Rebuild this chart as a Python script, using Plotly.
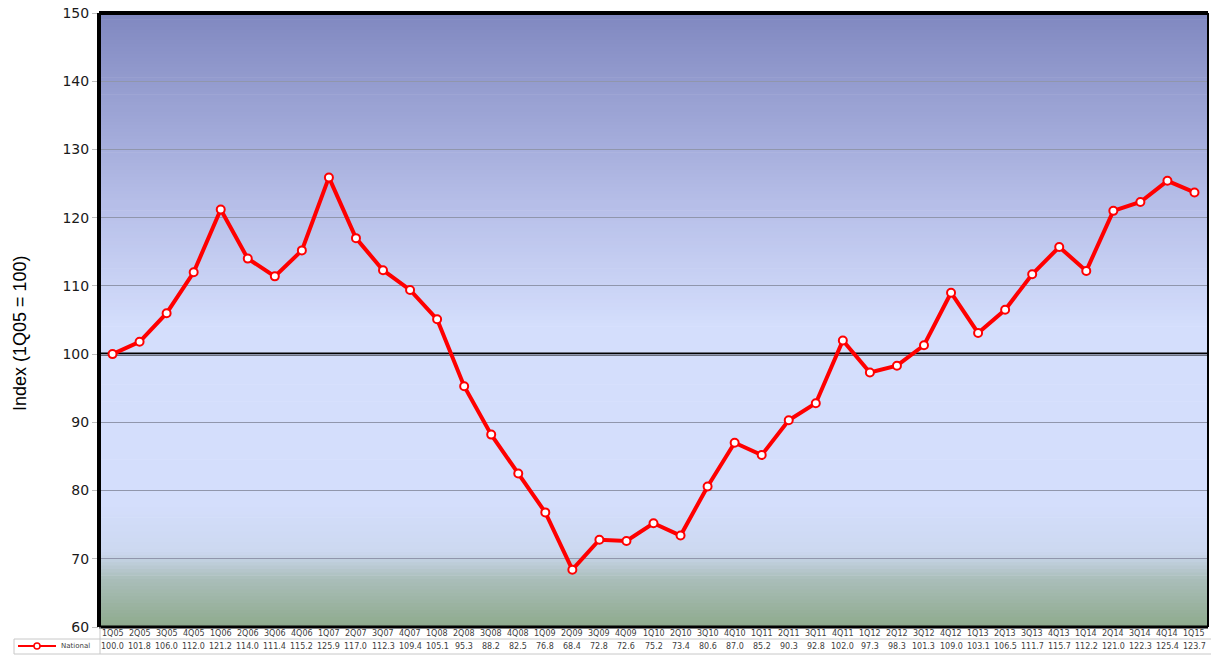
import plotly.graph_objects as go

# quarters and national index values (1Q05 = 100)
quarters = ["1Q05", "2Q05", "3Q05", "4Q05", "1Q06", "2Q06", "3Q06", "4Q06",
            "1Q07", "2Q07", "3Q07", "4Q07", "1Q08", "2Q08", "3Q08", "4Q08",
            "1Q09", "2Q09", "3Q09", "4Q09", "1Q10", "2Q10", "3Q10", "4Q10",
            "1Q11", "2Q11", "3Q11", "4Q11", "1Q12", "2Q12", "3Q12", "4Q12",
            "1Q13", "2Q13", "3Q13", "4Q13", "1Q14", "2Q14", "3Q14", "4Q14", "1Q15"]
national = [100.0, 101.8, 106.0, 112.0, 121.2, 114.0, 111.4, 115.2,
            125.9, 117.0, 112.3, 109.4, 105.1, 95.3, 88.2, 82.5,
            76.8, 68.4, 72.8, 72.6, 75.2, 73.4, 80.6, 87.0,
            85.2, 90.3, 92.8, 102.0, 97.3, 98.3, 101.3, 109.0,
            103.1, 106.5, 111.7, 115.7, 112.2, 121.0, 122.3, 125.4, 123.7]
y_ticks = [60, 70, 80, 90, 100, 110, 120, 130, 140, 150]

x_idx = list(range(len(quarters)))

# background gradient stops (index value -> colour)
grad_stops = [(60, (142, 170, 140)), (67, (170, 190, 186)), (71, (204, 216, 240)),
              (78, (212, 222, 252)), (104, (212, 222, 252)), (122, (182, 190, 232)),
              (150, (128, 136, 192))]


def grad_color(v):
    for (a, ca), (b, cb) in zip(grad_stops[:-1], grad_stops[1:]):
        if a <= v <= b:
            t = (v - a) / (b - a)
            c = [round(ca[k] + (cb[k] - ca[k]) * t) for k in range(3)]
            return "rgb(%d,%d,%d)" % tuple(c)
    return "rgb(128,136,192)"


shapes = []
step = 0.5
v = 60.0
while v < 150:
    shapes.append(dict(type="rect", xref="paper", yref="y", x0=0, x1=1, y0=v, y1=v + step + 0.1,
                       fillcolor=grad_color(v + step / 2), line=dict(width=0), layer="below"))
    v += step

# 100 baseline
shapes.append(dict(type="line", xref="paper", yref="y", x0=0, x1=1, y0=100, y1=100,
                   line=dict(color="black", width=3), layer="between"))
# frame
shapes.append(dict(type="line", xref="paper", yref="paper", x0=0, x1=0, y0=0, y1=1, line=dict(color="black", width=4)))
shapes.append(dict(type="line", xref="paper", yref="paper", x0=0, x1=1, y0=1, y1=1, line=dict(color="black", width=4)))
shapes.append(dict(type="line", xref="paper", yref="paper", x0=0, x1=1, y0=0, y1=0, line=dict(color="black", width=3)))
shapes.append(dict(type="line", xref="paper", yref="paper", x0=1, x1=1, y0=0, y1=1, line=dict(color="black", width=2)))

# data table grid
W, H = 1211, 656
L, R, T, B = 99, 3, 13, 29
pw, ph = W - L - R, H - T - B


def px_x(p):
    return (p - L) / pw


def px_y(p):
    return (H - B - p) / ph


for yy in [639, 654]:
    shapes.append(dict(type="line", xref="paper", yref="paper", x0=px_x(14), x1=px_x(1211),
                       y0=px_y(yy), y1=px_y(yy), line=dict(color="#c8c8c8", width=1)))
shapes.append(dict(type="line", xref="paper", yref="paper", x0=px_x(14), x1=px_x(14),
                   y0=px_y(639), y1=px_y(654), line=dict(color="#c8c8c8", width=1)))
shapes.append(dict(type="line", xref="paper", yref="paper", x0=px_x(100), x1=px_x(100),
                   y0=px_y(627), y1=px_y(654), line=dict(color="#c8c8c8", width=1)))
# legend key
shapes.append(dict(type="line", xref="paper", yref="paper", x0=px_x(18), x1=px_x(56),
                   y0=px_y(646), y1=px_y(646), line=dict(color="red", width=2)))
shapes.append(dict(type="circle", xref="paper", yref="paper", xsizemode="pixel", ysizemode="pixel",
                   xanchor=px_x(37), yanchor=px_y(646), x0=-3, x1=3, y0=-3, y1=3,
                   fillcolor="white", line=dict(color="red", width=1.5)))

annotations = []
tfont = dict(family="DejaVu Sans, Verdana", size=8, color="#404040")
for i in x_idx:
    annotations.append(dict(x=i, y=0, xref="x", yref="paper", text=quarters[i], showarrow=False,
                            yanchor="middle", yshift=-6, font=tfont))
    annotations.append(dict(x=i, y=0, xref="x", yref="paper", text="%.1f" % national[i], showarrow=False,
                            yanchor="middle", yshift=-19, font=tfont))
annotations.append(dict(x=px_x(59), y=px_y(646), xref="paper", yref="paper", text="National",
                        showarrow=False, xanchor="left", yanchor="middle",
                        font=dict(family="DejaVu Sans, Verdana", size=7, color="#404040")))
# y axis title
annotations.append(dict(x=px_x(20), y=px_y(333), xref="paper", yref="paper", text="Index (1Q05 = 100)",
                        showarrow=False, textangle=-90, xanchor="center", yanchor="middle",
                        font=dict(family="Liberation Sans Narrow, Liberation Sans, Arial", size=18,
                                  color="#000000")))

fig = go.Figure()
fig.add_trace(go.Scatter(
    x=x_idx, y=national, mode="lines+markers", name="National",
    line=dict(color="#ff0000", width=4),
    marker=dict(size=8, color="white", line=dict(color="#ff0000", width=2)),
    cliponaxis=False,
))

fig.update_layout(
    width=W, height=H,
    margin=dict(l=L, r=R, t=T, b=B),
    paper_bgcolor="white",
    plot_bgcolor="white",
    showlegend=False,
    shapes=shapes,
    annotations=annotations,
    xaxis=dict(range=[-0.5, len(quarters) - 0.5], showticklabels=False, showgrid=False,
               zeroline=False, ticks=""),
    yaxis=dict(range=[60, 150], tickvals=y_ticks, showgrid=True, gridcolor="#9096ac", gridwidth=1,
               zeroline=False, ticks="outside", ticklen=6, tickcolor="#c0c0c0",
               tickfont=dict(family="DejaVu Sans, Arial", size=14, color="#1a1a1a")),
)

# page body margin off so the figure sits at the window's corner
fig.write_html("out.html", config={"displayModeBar": False},
               post_script="document.body.style.margin='0';")
